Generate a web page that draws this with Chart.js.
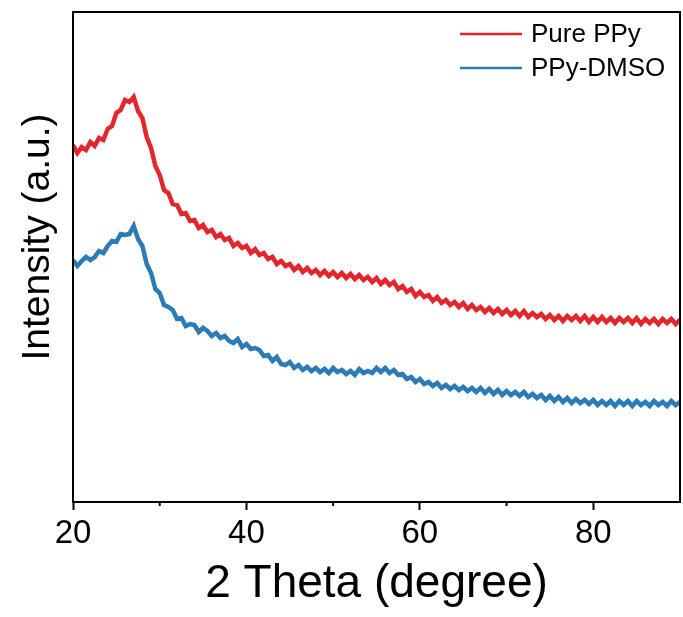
<!DOCTYPE html>
<html>
<head>
<meta charset="utf-8">
<script src="https://cdn.jsdelivr.net/npm/chart.js@4/dist/chart.umd.min.js"></script>
<style>
html,body{margin:0;padding:0;background:#fff;}
canvas{display:block;}
</style>
</head>
<body>
<canvas id="c" width="683" height="617"></canvas>
<script>
// 2-theta positions (degree)
const twoTheta = [20,20.5,21,21.5,22,22.5,23,23.5,24,24.5,25,25.5,26,26.5,27,27.5,28,28.5,29,29.5,
30,30.5,31,31.5,32,32.5,33,33.5,34,34.5,35,35.5,36,36.5,37,37.5,38,38.5,39,39.5,
40,40.5,41,41.5,42,42.5,43,43.5,44,44.5,45,45.5,46,46.5,47,47.5,48,48.5,49,49.5,
50,50.5,51,51.5,52,52.5,53,53.5,54,54.5,55,55.5,56,56.5,57,57.5,58,58.5,59,59.5,
60,60.5,61,61.5,62,62.5,63,63.5,64,64.5,65,65.5,66,66.5,67,67.5,68,68.5,69,69.5,
70,70.5,71,71.5,72,72.5,73,73.5,74,74.5,75,75.5,76,76.5,77,77.5,78,78.5,79,79.5,
80,80.5,81,81.5,82,82.5,83,83.5,84,84.5,85,85.5,86,86.5,87,87.5,88,88.5,89,89.5,90];

// Intensity (a.u.)
const purePPy = [357,349,355,352,360,356,364,362,373,376,389,392,402,400,405,391,384,365,354,336,
327,312,309,298,297,288,289,281,282,274,277,270,272,265,268,262,264,256,259,254,
256,249,253,247,249,243,245,238,241,236,238,232,236,230,234,229,232,227,231,226,
230,225,229,224,228,223,227,222,225,220,224,218,222,217,220,213,216,210,213,206,
210,205,207,201,205,199,202,197,200,195,199,193,197,192,195,190,194,189,193,188,
192,187,191,186,191,185,189,185,188,183,187,182,186,181,186,182,186,181,186,180,
185,180,185,180,184,179,184,180,184,179,184,178,183,179,183,178,183,179,183,178,182];

const ppyDMSO = [242,236,241,245,242,245,251,249,256,261,260,268,267,268,276,263,256,238,229,213,
209,197,195,192,183,184,176,178,177,170,174,171,166,169,164,166,161,159,163,155,
158,153,154,152,146,147,141,145,138,137,140,134,137,132,135,131,134,130,133,129,
134,130,132,128,131,127,133,129,131,129,134,130,134,129,132,127,128,123,125,120,
123,118,120,116,119,114,117,113,116,112,115,111,114,110,114,109,113,108,112,107,
111,107,110,106,110,105,108,104,107,102,106,101,105,100,104,99,103,99,102,98,
102,97,101,97,101,96,101,97,101,96,101,97,100,96,101,97,100,96,101,97,100];

const seriesNames = ['Pure PPy', 'PPy-DMSO'];
const seriesColors = ['#e3262b', '#2a7bb7'];
const xTickLabels = [20, 40, 60, 80];
const xTitle = '2 Theta (degree)';
const yTitle = 'Intensity (a.u.)';

const FONT = '"Liberation Sans", Arial, Helvetica, sans-serif';
Chart.defaults.font.family = FONT;
Chart.defaults.color = '#000';

const toPts = arr => arr.map((v, i) => ({x: twoTheta[i], y: v}));

const framePlugin = {
  id: 'frame',
  afterDraw(chart) {
    const {ctx, chartArea: a, scales} = chart;
    ctx.save();
    ctx.strokeStyle = '#000';
    ctx.lineWidth = 2;
    ctx.strokeRect(a.left, a.top, a.right - a.left, a.bottom - a.top);
    // minor ticks
    const xs = scales.x;
    ctx.lineWidth = 2;
    for (let v = 30; v < 90; v += 20) {
      const px = xs.getPixelForValue(v);
      ctx.beginPath();
      ctx.moveTo(px, a.bottom);
      ctx.lineTo(px, a.bottom + 4);
      ctx.stroke();
    }
    // y title
    ctx.font = '39px ' + FONT;
    ctx.fillStyle = '#000';
    ctx.textAlign = 'center';
    ctx.textBaseline = 'middle';
    ctx.translate(38, 237);
    ctx.rotate(-Math.PI / 2);
    ctx.fillText(yTitle, 0, 0);
    ctx.restore();
    // legend
    ctx.save();
    ctx.font = '26px ' + FONT;
    ctx.textAlign = 'left';
    ctx.textBaseline = 'middle';
    const rows = [34, 68];
    chart.data.datasets.forEach((ds, i) => {
      const y = rows[i];
      ctx.strokeStyle = ds.borderColor;
      ctx.lineWidth = 2.5;
      ctx.beginPath();
      ctx.moveTo(460, y);
      ctx.lineTo(522, y);
      ctx.stroke();
      ctx.fillStyle = '#000';
      ctx.fillText(ds.label, 531, y + 1);
    });
    ctx.restore();
  }
};

new Chart(document.getElementById('c'), {
  type: 'line',
  data: {
    datasets: [
      {label: seriesNames[0], data: toPts(purePPy), borderColor: seriesColors[0], borderWidth: 4.5, pointRadius: 0, tension: 0},
      {label: seriesNames[1], data: toPts(ppyDMSO), borderColor: seriesColors[1], borderWidth: 4.5, pointRadius: 0, tension: 0}
    ]
  },
  options: {
    responsive: false,
    animation: false,
    events: [],
    layout: {padding: {top: 12, right: 3, left: 0, bottom: 0}},
    plugins: {legend: {display: false}, tooltip: {enabled: false}},
    scales: {
      x: {
        type: 'linear',
        min: 20, max: 90,
        afterFit(s) { s.height = 115; },
        afterBuildTicks(s) { s.ticks = xTickLabels.map(v => ({value: v})); },
        ticks: {font: {size: 33}, color: '#000', padding: 4, maxRotation: 0, autoSkip: false},
        grid: {drawOnChartArea: false, tickLength: 8, tickWidth: 2, tickColor: '#000'},
        border: {display: true, color: '#000', width: 2},
        title: {display: true, text: xTitle, font: {size: 46}, color: '#000', padding: {top: 0, bottom: 5}}
      },
      y: {
        min: 0, max: 490,
        afterFit(s) { s.width = 73; },
        ticks: {display: false},
        grid: {display: false},
        border: {display: true, color: '#000', width: 2}
      }
    }
  },
  plugins: [framePlugin]
});
</script>
</body>
</html>
